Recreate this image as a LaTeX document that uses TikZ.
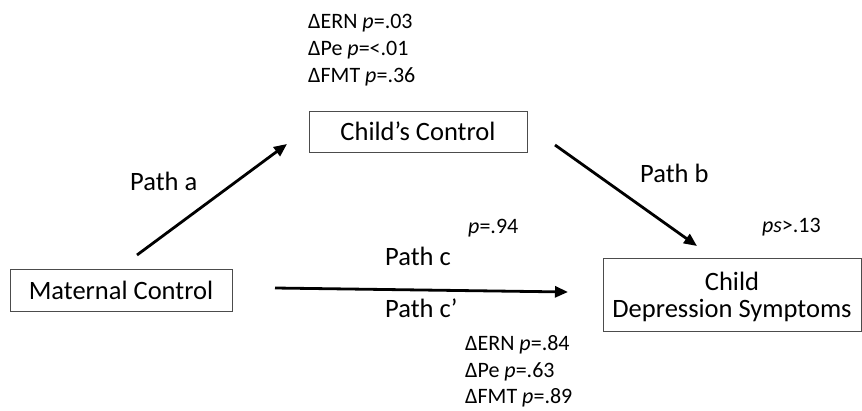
\documentclass[tikz,border=0pt]{standalone}
\usepackage{fontspec}
\setmainfont{Carlito}
\usetikzlibrary{arrows.meta}

\begin{document}
\begin{tikzpicture}[x=1pt,y=-1pt,
  box/.style={draw=black!70,line width=0.8pt,inner sep=0pt,font=\fontsize{26.5}{27}\selectfont},
  lab/.style={anchor=base west,inner sep=0pt,font=\fontsize{26.5}{27}\selectfont},
  stat/.style={anchor=base west,inner sep=0pt,font=\fontsize{22}{27}\selectfont},
  link/.style={line width=2.8pt,-{Triangle[length=13pt,width=11pt]}}]
\useasboundingbox (0,0) rectangle (862,410);

\node[box,minimum width=222,minimum height=42] (mat) at (121,290) {Maternal Control};
\node[box,minimum width=218,minimum height=41] (chc) at (418,131.5) {Child’s Control};
\node[box,minimum width=258,minimum height=73,align=center,text depth=0pt] (dep) at (732,294.5) {Child\\Depression Symptoms};

\node[stat] (a1) at (308,28) {ΔERN \textit{p}=.03};
\node[stat] (a2) at (308,55) {ΔPe \textit{p}=<.01};
\node[stat] (a3) at (308,82) {ΔFMT \textit{p}=.36};

\node[stat] (cp) at (468,233) {\textit{p}=.94};
\node[stat] (bp) at (762,232) {\textit{ps}>.13};

\node[stat] (c1) at (465,350) {ΔERN \textit{p}=.84};
\node[stat] (c2) at (465,377) {ΔPe \textit{p}=.63};
\node[stat] (c3) at (465,403) {ΔFMT \textit{p}=.89};

\node[lab] (pa) at (130,190) {Path a};
\node[lab] (pb) at (640,182) {Path b};
\node[lab] (pc) at (385,265) {Path c};
\node[lab] (pcc) at (385,317) {Path c’};

\coordinate (sa) at (137,255); \coordinate (ea) at (287,144);
\coordinate (sb) at (555,145); \coordinate (eb) at (697,246);
\coordinate (sc) at (275,288); \coordinate (ec) at (568,292);

\draw[link] (sa) -- (ea);
\draw[link] (sb) -- (eb);
\draw[link] (sc) -- (ec);
\end{tikzpicture}
\end{document}
